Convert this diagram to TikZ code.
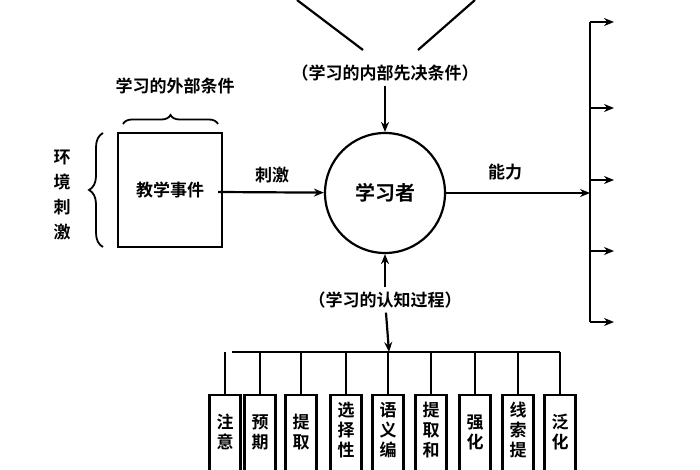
\documentclass[tikz,border=0pt]{standalone}
\usepackage{fontspec}
\setmainfont{Noto Sans CJK SC Bold}
\usetikzlibrary{arrows.meta, positioning, decorations.pathreplacing}

\begin{document}
\begin{tikzpicture} [x=1pt, y=-1pt, line width=2.2pt, font=\fontsize{17}{20}\selectfont,
    proc/.style = {draw, minimum width=31pt, minimum height=100pt, anchor=north, inner sep=0pt},
    bracket/.style = {line width=1.8pt, decorate, decoration={brace, amplitude=#1}},
    link/.style = {-{Stealth[length=10pt, width=8pt]}}]
    \useasboundingbox (0,0) rectangle (700,470);

    % centre and left side
    \node (learner) [draw, circle, minimum size=120pt, font=\fontsize{20}{22}\selectfont] at (385,193) {学习者};
    \node (events) [draw, minimum width=104pt, minimum height=114pt] at (170,190) {教学事件};
    \node (stim) at (272,175) {刺激};
    \node (outer) at (175,86) {学习的外部条件};
    \node (env) [align=center, font=\fontsize{17}{25}\selectfont] at (62,195) {环\\境\\刺\\激};
    \draw [bracket=14pt] (103,247) -- (103,133);
    \draw [bracket=9pt] (123,124) -- (218,124);
    \coordinate (sOut) at (218,192);
    \draw [link] (sOut) -- (learner);

    % internal conditions
    \node (inner) at (385,73) {（学习的内部先决条件）};
    \coordinate (tl) at (297,0);
    \coordinate (tr) at (475,0);
    \draw (tl) -- (363,50);
    \draw (tr) -- (418,50);
    \draw [link] (inner) -- (learner);

    % output branch
    \coordinate (bar) at (590,193);
    \draw [link] (learner) -- (bar);
    \node (ability) at (505,172) {能力};
    \draw (590,22) -- (590,322);
    \foreach \y in {22,108,180,251,322}
        \draw [link] (590,\y) -- (614,\y);

    % cognitive processes
    \node (cog) at (385,300) {（学习的认知过程）};
    \draw [link] (cog) -- (learner);
    \coordinate (hub) at (389,352);
    \draw [link] (cog) -- (hub);
    \draw (232,352) -- (560,352);
    \foreach \x [count=\i] in {225,260,301,346,388,431,475,518,560} {
        \node (p\i) [proc] at (\x,394) {};
        \draw (\x,352) -- (p\i.north);
    }
    \foreach \i/\t in {1/注\\意, 2/预\\期, 3/提\\取, 7/强\\化, 9/泛\\化}
        \node (t\i) at ([yshift=-38pt]p\i.north) [align=center] {\t};
    \foreach \i/\t in {4/选\\择\\性, 5/语\\义\\编, 6/提\\取\\和, 8/线\\索\\提}
        \node (t\i) [anchor=north, align=center] at ([yshift=-4pt]p\i.north) {\t};
\end{tikzpicture}
\end{document}
